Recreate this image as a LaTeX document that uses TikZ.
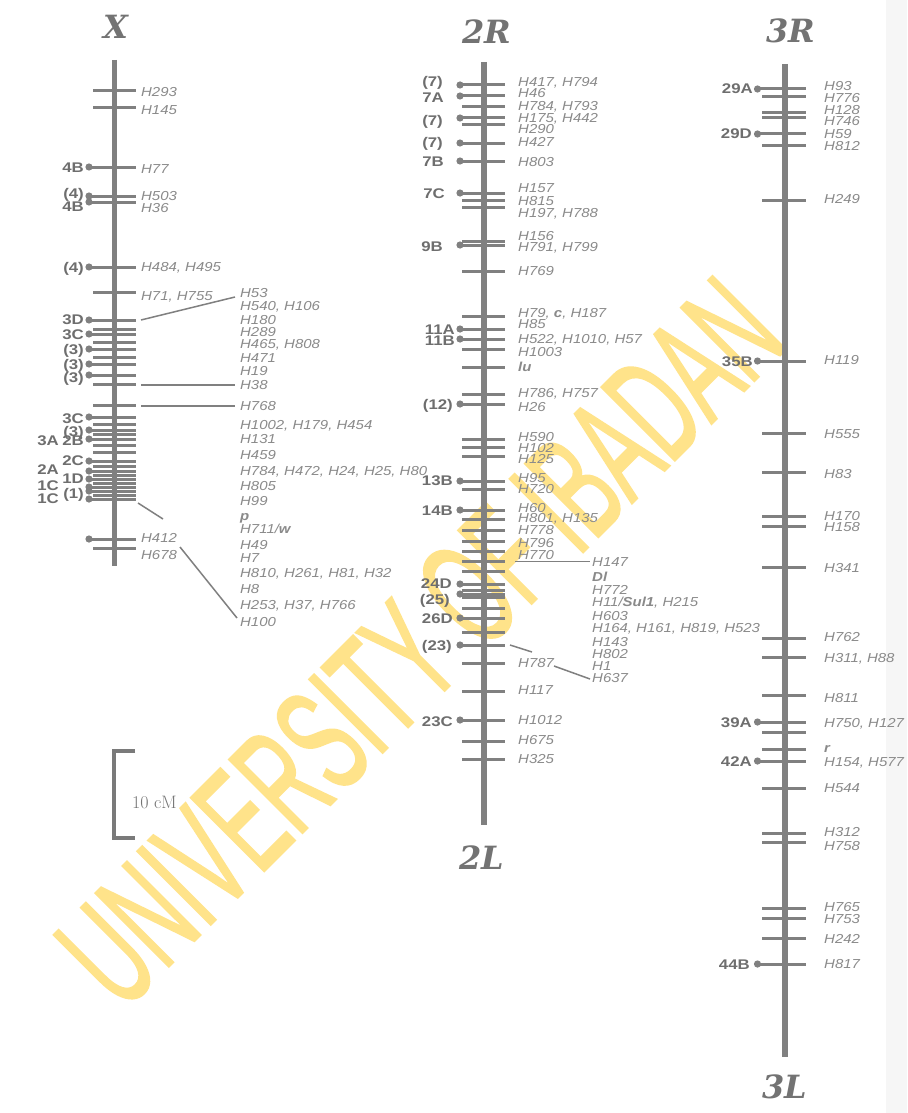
\documentclass[tikz,border=0pt]{standalone}
\usepackage{fontspec}
\usepackage{graphicx}
\newfontfamily\hfont[FakeStretch=1.15]{Liberation Sans}
\newfontfamily\bfont[FakeStretch=1.2]{Liberation Sans}
\newfontfamily\wfont[FakeBold=1.8]{Liberation Sans}
\newfontfamily\tfont{DejaVu Serif}
\definecolor{chrom}{HTML}{808080}
\definecolor{labgrey}{HTML}{8A8A8A}
\definecolor{boldgrey}{HTML}{6E6E6E}
\definecolor{wmark}{HTML}{FFE38A}
\definecolor{strip}{HTML}{F6F6F6}
\tikzset{
  axisline/.style={line width=5.5pt, draw=chrom},
  tickline/.style={line width=3pt, draw=chrom},
  conn/.style={line width=1.5pt, draw=chrom},
  hlab/.style={anchor=base west, inner sep=0pt, text=labgrey, font=\hfont\itshape\fontsize{13}{13}\selectfont, yshift=-4.6pt},
  blab/.style={anchor=base east, inner sep=0pt, text=boldgrey, font=\bfont\bfseries\fontsize{14}{14}\selectfont, yshift=-5pt},
  chromtitle/.style={inner sep=0pt, text=chrom!90!black, font=\tfont\fontsize{32}{32}\selectfont\bfseries\itshape},
  wmtext/.style={rotate=45, inner sep=0pt, text=wmark, font=\wfont\fontsize{150}{150}\selectfont},
}
\begin{document}
\begin{tikzpicture}[x=1pt,y=-1pt]
\useasboundingbox (0,0) rectangle (907,1113);
\fill[white] (0,0) rectangle (907,1113);
\fill[strip] (886,0) rectangle (907,1113);

% ---------------- watermark (background) ----------------
\node[wmtext] (wm) at (420,642) {\scalebox{0.54}[1]{UNIVERSITY OF IBADAN}};

% ---------------- X chromosome ----------------
\node[chromtitle] (Xt) at (115.5,27) {X};
\coordinate (Xtop) at (114.5,60);
\coordinate (Xbot) at (114.5,566);
\draw[axisline] (Xtop) -- (Xbot);
\foreach \y in {91,108,292,329,342,357,384,405,424,434,445,452,466,475,483,495,548}
  \draw[tickline] (93,\y) -- (136,\y);
\foreach \y in {167,196,202,267,320,334,349,364,375,417,430,439,461,471,479,487,491,499,539}
  {\draw[tickline] (89,\y) -- (136,\y); \fill[chrom] (89,\y) circle (3.6);}
\foreach \y/\t in {92/H293,110/H145,169/H77,196/H503,208/H36,267/{H484, H495},296/{H71, H755},538/H412,555/H678}
  \node[hlab] (xa\y) at (141,\y) {\t};
\foreach \y/\t in {293/H53,306/{H540, H106},320/H180,332/H289,344/{H465, H808},358/H471,371/H19,385/H38,406/H768,425/{H1002, H179, H454},439/H131,455/H459,471/{H784, H472, H24, H25, H80},486/H805,501/H99,516/{\textbf{p}},529/{H711/\textbf{w}},545/H49,558/H7,573/{H810, H261, H81, H32},589/H8,605/{H253, H37, H766},622/H100}
  \node[hlab] (xb\y) at (240,\y) {\t};
\foreach \y/\t in {167/4B,193/(4),206/4B,267/(4),319/3D,334/3C,349/(3),364/(3),377/(3),418/3C,431/(3),440/2B,460/2C,478/1D,493/(1)}
  \node[blab] (xc\y) at (84,\y) {\t};
\foreach \y/\t in {440/3A,469/2A,485/1C,498/1C}
  \node[blab] (xd\y) at (59,\y) {\t};
% connectors X
\coordinate (xc1a) at (141,320); \coordinate (xc1b) at (235,297);
\coordinate (xc2a) at (141,385); \coordinate (xc2b) at (235,385);
\coordinate (xc3a) at (141,406); \coordinate (xc3b) at (235,406);
\coordinate (xc4a) at (138,503); \coordinate (xc4b) at (163,519);
\coordinate (xc5a) at (180,547); \coordinate (xc5b) at (237,618);
\draw[conn] (xc1a) -- (xc1b);
\draw[conn] (xc2a) -- (xc2b);
\draw[conn] (xc3a) -- (xc3b);
\draw[conn] (xc4a) -- (xc4b);
\draw[conn] (xc5a) -- (xc5b);

% ---------------- 2R / 2L ----------------
\node[chromtitle] (t2R) at (487,32) {2R};
\node[chromtitle] (t2L) at (482,858) {2L};
\coordinate (Ttop) at (484,62);
\coordinate (Tbot) at (484,825);
\draw[axisline] (Ttop) -- (Tbot);
\foreach \y in {107,125,200,207,241,271,316,349,367,394,439,447,456,489,519,530,541,551,561,571,590,597,608,632,663,691,741,759}
  \draw[tickline] (462,\y) -- (505,\y);
\foreach \y in {85,96,118,143,161,193,245,329,339,404,481,510,584,594,618,645,720}
  {\draw[tickline] (460,\y) -- (505,\y); \fill[chrom] (460,\y) circle (3.6);}
\foreach \y/\t in {82/{H417, H794},93/H46,106/{H784, H793},118/{H175, H442},129/H290,142/H427,162/H803,188/H157,201/H815,213/{H197, H788},236/H156,247/{H791, H799},271/H769,313/{H79, \textbf{c}, H187},324/H85,339/{H522, H1010, H57},352/H1003,367/{\textbf{lu}},393/{H786, H757},407/H26,437/H590,448/H102,459/H125,478/H95,489/H720,508/H60,518/{H801, H135},530/H778,543/H796,555/H770,663/H787,690/H117,720/H1012,740/H675,759/H325}
  \node[hlab] (ta\y) at (518,\y) {\t};
\foreach \y/\t in {562/H147,577/{\textbf{Dl}},590/H772,602/{H11/\textbf{Sul1}, H215},616/H603,628/{H164, H161, H819, H523},642/H143,654/H802,666/H1,678/H637}
  \node[hlab] (tb\y) at (592,\y) {\t};
\foreach \y/\t/\r in {82/(7)/443,98/7A/444,120/(7)/443,142/(7)/443,161/7B/444,193/7C/445,246/9B/443,329/11A/455,340/11B/455,404/(12)/453,480/13B/453,510/14B/453,583/24D/452,599/(25)/450,618/26D/453,645/(23)/452,721/23C/453}
  \node[blab] (tc\y) at (\r,\y) {\t};
% connectors 2R
\coordinate (tc1a) at (515,561.5); \coordinate (tc1b) at (590,561.5);
\coordinate (tc2a) at (510,645); \coordinate (tc2b) at (532,652);
\coordinate (tc3a) at (554,666); \coordinate (tc3b) at (590,679);
\draw[conn] (tc1a) -- (tc1b);
\draw[conn] (tc2a) -- (tc2b);
\draw[conn] (tc3a) -- (tc3b);

% ---------------- 3R / 3L ----------------
\node[chromtitle] (t3R) at (790.5,31) {3R};
\node[chromtitle] (t3L) at (785,1087) {3L};
\coordinate (Rtop) at (785,64);
\coordinate (Rbot) at (785,1057);
\draw[axisline] (Rtop) -- (Rbot);
\foreach \y in {97,113,118,145,200,433,472,516,526,567,638,657,695,732,749,788,833,842,908,918,938}
  \draw[tickline] (762,\y) -- (806,\y);
\foreach \y in {89,134,361,722,761,964}
  {\draw[tickline] (757.5,\y) -- (806,\y); \fill[chrom] (757.5,\y) circle (3.6);}
\foreach \y/\t in {86/H93,98/H776,110/H128,121/H746,134/H59,146/H812,199/H249,360/H119,434/H555,474/H83,516/H170,527/H158,568/H341,637/H762,658/{H311, H88},698/H811,723/{H750, H127},748/{\textbf{r}},762/{H154, H577},788/H544,832/H312,846/H758,907/H765,919/H753,939/H242,964/H817}
  \node[hlab] (ra\y) at (824,\y) {\t};
\foreach \y/\t/\r in {89/29A/753,134/29D/752,361/35B/753,722/39A/752,761/42A/752,964/44B/750}
  \node[blab] (rc\y) at (\r,\y) {\t};

% ---------------- scale bar ----------------
\coordinate (sb1) at (135,751);
\coordinate (sb2) at (114,751);
\coordinate (sb3) at (114,838);
\coordinate (sb4) at (135,838);
\draw[line width=4pt, draw=chrom!95!black, line join=miter] (sb1) -- (sb2) -- (sb3) -- (sb4);
\node[anchor=west, inner sep=0pt, text=chrom!90!black, font=\fontsize{18}{18}\selectfont] (sbl) at (132,802) {10 cM};
\end{tikzpicture}
\end{document}
